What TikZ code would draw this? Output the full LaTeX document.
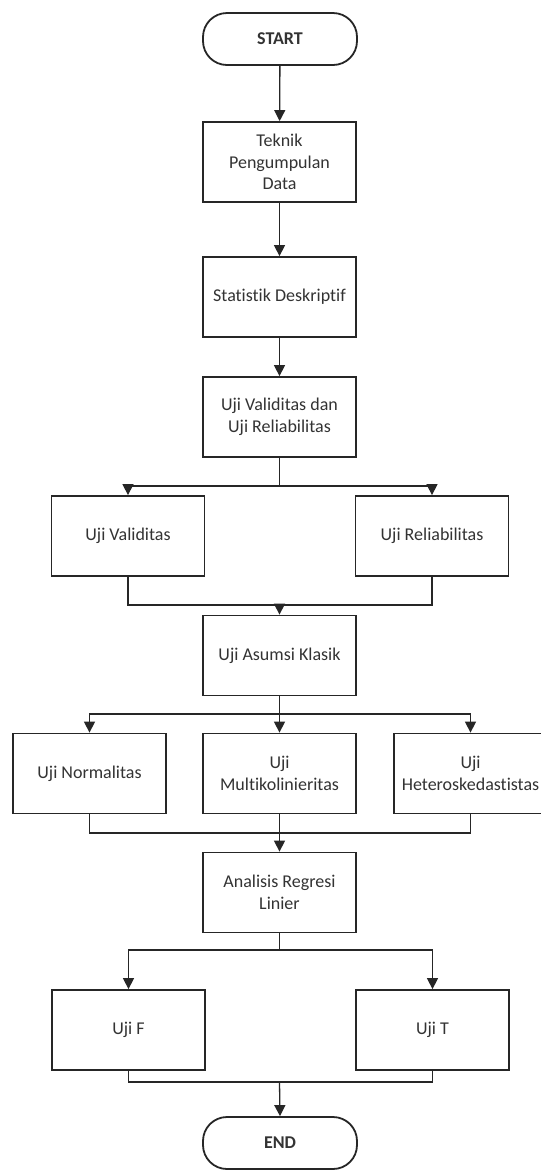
\documentclass[tikz,border=0pt]{standalone}
\usepackage{fontspec}
\setmainfont{Carlito}[Ligatures=NoCommon]
\usetikzlibrary{arrows.meta}
\begin{document}
\begin{tikzpicture}[x=1pt,y=-1pt,
  box/.style={draw=black!85, line width=1.8pt, fill=white, minimum width=153pt, minimum height=80pt, inner sep=0pt, align=center, font=\fontsize{18}{21.5}\selectfont, text=black!80},
  term/.style={box, minimum width=154pt, minimum height=52pt, rounded corners=24pt, font=\fontsize{18}{21.5}\selectfont\bfseries},
  conn/.style={draw=black!85, line width=1.3pt},
  arr/.style={conn, -{Triangle[width=11pt,length=11pt]}}]
\clip (0,0) rectangle (541,1171);
\fill[white] (0,0) rectangle (541,1171);

\node[term] (start) at (280,39) {START};
\node[box] (tek) at (279.5,162) {Teknik\\Pengumpulan\\Data};
\node[box] (stat) at (279.5,297) {Statistik Deskriptif};
\node[box] (uvr) at (279.5,417) {Uji Validitas dan\\Uji Reliabilitas};
\node[box] (uv) at (128,536) {Uji Validitas};
\node[box] (ur) at (432,536) {Uji Reliabilitas};
\node[box] (ua) at (279.5,655.5) {Uji Asumsi Klasik};
\node[box] (un) at (89.5,773.5) {Uji Normalitas};
\node[box] (um) at (279.5,773.5) {Uji\\Multikolinieritas};
\node[box] (uh) at (470.5,773.5) {Uji\\Heteroskedastistas};
\node[box] (ar) at (279.5,892.5) {Analisis Regresi\\Linier};
\node[box] (uf) at (128.5,1030) {Uji F};
\node[box] (ut) at (432.5,1030) {Uji T};
\node[term] (end) at (280,1143) {END};

\coordinate (b1) at (279.5,486);
\coordinate (m1) at (279.5,605);
\coordinate (b2) at (279.5,714);
\coordinate (m2) at (279.5,833);
\coordinate (b3) at (279.5,950);
\coordinate (m3) at (279.5,1082);

\draw[arr] (start) -- (tek);
\draw[arr] (tek) -- (stat);
\draw[arr] (stat) -- (uvr);

\draw[conn] (uvr.south) -- (b1);
\draw[arr] (b1) -| (uv.north);
\draw[arr] (b1) -| (ur.north);
\draw[conn] (uv.south) |- (m1);
\draw[conn] (ur.south) |- (m1);
\draw[arr] (m1) -- (ua.north);

\draw[conn] (ua.south) -- (b2);
\draw[arr] (b2) -| (un.north);
\draw[arr] (b2) -- (um.north);
\draw[arr] (b2) -| (uh.north);
\draw[conn] (un.south) |- (m2);
\draw[conn] (uh.south) |- (m2);
\draw[arr] (um.south) -- (ar.north);

\draw[conn] (ar.south) -- (b3);
\draw[arr] (b3) -| (uf.north);
\draw[arr] (b3) -| (ut.north);
\draw[conn] (uf.south) |- (m3);
\draw[conn] (ut.south) |- (m3);
\draw[arr] (m3) -- (end.north);
\end{tikzpicture}
\end{document}
